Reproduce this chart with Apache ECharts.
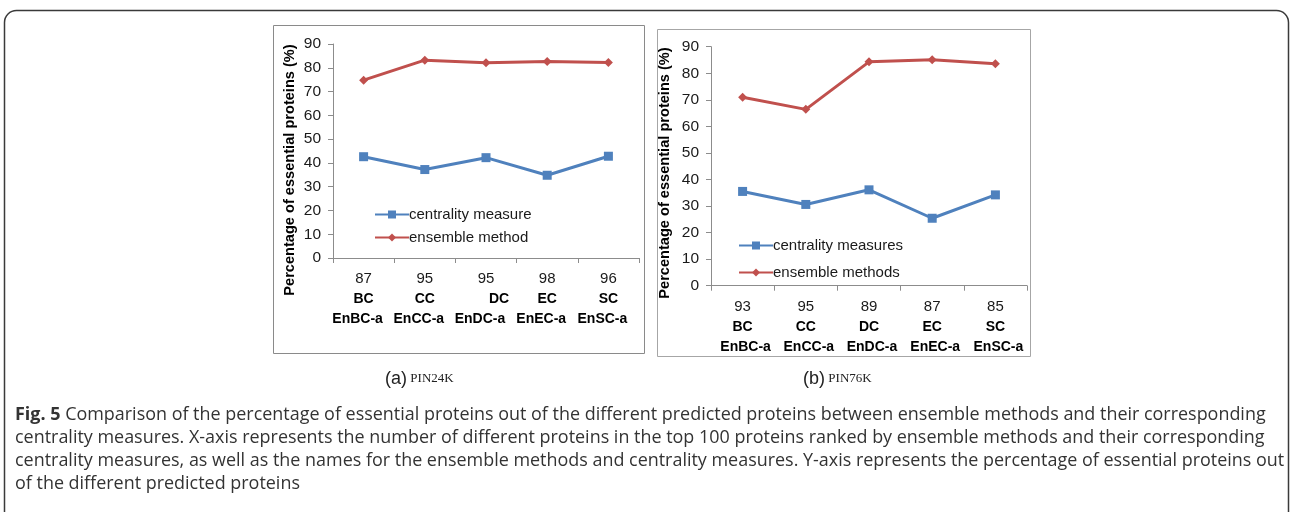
<!DOCTYPE html>
<html>
<head>
<meta charset="utf-8">
<script src="https://cdn.jsdelivr.net/npm/echarts@6/dist/echarts.min.js"></script>
<style>html,body{margin:0;padding:0;background:#fff}#c{width:1292px;height:512px}</style>
</head>
<body>
<div id="c"></div>
<script>
// ---- data ----
const centralityNames = ['BC', 'CC', 'DC', 'EC', 'SC'];
const ensembleNames = ['EnBC-a', 'EnCC-a', 'EnDC-a', 'EnEC-a', 'EnSC-a'];
const countsA = [87, 95, 95, 98, 96];
const countsB = [93, 95, 89, 87, 85];
const centralityA = [42.6, 37.2, 42.2, 34.8, 42.8];
const ensembleA = [74.8, 83.2, 82.1, 82.6, 82.2];
const centralityB = [35.5, 30.6, 36.1, 25.4, 34.2];
const ensembleB = [71.0, 66.4, 84.3, 85.1, 83.6];
const yTicks = [0, 10, 20, 30, 40, 50, 60, 70, 80, 90];
const yName = 'Percentage of essential proteins (%)';
const legendA = ['centrality measure', 'ensemble method'];
const legendB = ['centrality measures', 'ensemble methods'];
const subA = ['(a)', 'PIN24K'];
const subB = ['(b)', 'PIN76K'];
const captionBold = 'Fig. 5';
const captionLines = [
  ' Comparison of the percentage of essential proteins out of the different predicted proteins between ensemble methods and their corresponding',
  'centrality measures. X-axis represents the number of different proteins in the top 100 proteins ranked by ensemble methods and their corresponding',
  'centrality measures, as well as the names for the ensemble methods and centrality measures. Y-axis represents the percentage of essential proteins out',
  'of the different predicted proteins'
];

const BLUE = '#4F81BD', RED = '#C0504D', AX = '#8c8c8c';
const FONT = 'Liberation Sans';
const CAP = 'Open Sans';
const CAPSIZE = 17.95;

function makeXAxis(gi, counts, ensShift, cenShift) {
  return {
    type: 'category', gridIndex: gi, boundaryGap: true,
    data: counts.map((c, i) => String(i)),
    axisLine: {lineStyle: {color: AX, width: 1}},
    axisTick: {show: true, length: 5, lineStyle: {color: AX}, alignWithLabel: false},
    axisLabel: {
      margin: 11, interval: 0,
      formatter: function (v) {
        const i = +v;
        const cs = cenShift[i] ? 'c' + cenShift[i] : 'c0';
        return '{n|' + counts[i] + '}\n{' + cs + '|' + centralityNames[i] + '}\n{e|' + ensembleNames[i] + '}';
      },
      rich: {
        n: {fontFamily: FONT, fontSize: 15, color: '#1a1a1a', lineHeight: 20},
        c0: {fontFamily: FONT, fontSize: 14, fontWeight: 'bold', color: '#000', lineHeight: 20},
        c1: {fontFamily: FONT, fontSize: 14, fontWeight: 'bold', color: '#000', lineHeight: 20, padding: [0, 0, 0, 26]},
        e: {fontFamily: FONT, fontSize: 14, fontWeight: 'bold', color: '#000', lineHeight: 20, padding: ensShift}
      }
    }
  };
}
function makeYAxis(gi) {
  return {
    type: 'value', gridIndex: gi, min: yTicks[0], max: yTicks[yTicks.length - 1], interval: 10,
    splitLine: {show: false},
    axisLine: {show: true, lineStyle: {color: AX, width: 1}},
    axisTick: {show: true, length: 5, lineStyle: {color: AX}},
    axisLabel: {fontFamily: FONT, fontSize: 15.5, color: '#1a1a1a', margin: 12}
  };
}
function makeSeries(name, data, gi, color, symbol, size) {
  return {
    name: name, type: 'line', xAxisIndex: gi, yAxisIndex: gi, data: data,
    lineStyle: {color: color, width: 3}, itemStyle: {color: color},
    symbol: symbol, symbolSize: size, showSymbol: true, animation: false
  };
}
function legendStyle(names, left, top, gap) {
  return {
    data: names, orient: 'vertical', left: left, top: top, itemGap: gap,
    itemWidth: 34, itemHeight: 10, selectedMode: false,
    textStyle: {fontFamily: FONT, fontSize: 15, color: '#1a1a1a', padding: [0, 0, 0, -5]}
  };
}

const chart = echarts.init(document.getElementById('c'), null, {renderer: 'canvas'});
chart.setOption({
  animation: false,
  backgroundColor: '#fff',
  grid: [
    {left: 333, top: 44, width: 306, height: 214},
    {left: 711, top: 46.7, width: 316, height: 239}
  ],
  xAxis: [
    makeXAxis(0, countsA, [0, 12, 0, 0], [0, 0, 1, 0, 0]),
    makeXAxis(1, countsB, [0, 0, 0, 6], [])
  ],
  yAxis: [makeYAxis(0), makeYAxis(1)],
  legend: [
    legendStyle(legendA, 369, 202, 8),
    legendStyle(legendB, 733, 233, 12)
  ],
  series: [
    makeSeries(legendA[0], centralityA, 0, BLUE, 'rect', 9),
    makeSeries(legendA[1], ensembleA, 0, RED, 'diamond', 9),
    makeSeries(legendB[0], centralityB, 1, BLUE, 'rect', 9),
    makeSeries(legendB[1], ensembleB, 1, RED, 'diamond', 9)
  ],
  graphic: [
    {type: 'rect', z: -1, shape: {x: 4.5, y: 10.5, width: 1284, height: 540, r: 12},
     style: {fill: 'none', stroke: '#3a3a3a', lineWidth: 1.5}},
    {type: 'rect', z: -1, shape: {x: 273.5, y: 25.5, width: 371, height: 328},
     style: {fill: 'none', stroke: '#8a8a8a', lineWidth: 1}},
    {type: 'rect', z: -1, shape: {x: 657.5, y: 29.5, width: 373, height: 327},
     style: {fill: 'none', stroke: '#a6a6a6', lineWidth: 1}},
    {type: 'text', x: 290, y: 170, rotation: Math.PI / 2,
     style: {text: yName, fontFamily: FONT, fontSize: 14.6, fontWeight: 'bold', fill: '#000',
             align: 'center', verticalAlign: 'middle'}},
    {type: 'text', x: 665, y: 173, rotation: Math.PI / 2,
     style: {text: yName, fontFamily: FONT, fontSize: 14.6, fontWeight: 'bold', fill: '#000',
             align: 'center', verticalAlign: 'middle'}},
    {type: 'text', x: 385, y: 379,
     style: {text: '{a|' + subA[0] + '} {b|' + subA[1] + '}', verticalAlign: 'middle',
             rich: {a: {fontFamily: FONT, fontSize: 18, fill: '#222'},
                    b: {fontFamily: 'Liberation Serif', fontSize: 13, fill: '#222'}}}},
    {type: 'text', x: 803, y: 379,
     style: {text: '{a|' + subB[0] + '} {b|' + subB[1] + '}', verticalAlign: 'middle',
             rich: {a: {fontFamily: FONT, fontSize: 18, fill: '#222'},
                    b: {fontFamily: 'Liberation Serif', fontSize: 13, fill: '#222'}}}},
    {type: 'text', x: 15, y: 415,
     style: {text: '{b|' + captionBold + '}{t|' + captionLines[0] + '}', verticalAlign: 'middle',
             rich: {b: {fontFamily: CAP, fontSize: CAPSIZE, fontWeight: 'bold', fill: '#333'},
                    t: {fontFamily: CAP, fontSize: CAPSIZE, fill: '#333'}}}},
    {type: 'text', x: 15, y: 438,
     style: {text: captionLines[1], fontFamily: CAP, fontSize: CAPSIZE, fill: '#333', verticalAlign: 'middle'}},
    {type: 'text', x: 15, y: 461,
     style: {text: captionLines[2], fontFamily: CAP, fontSize: CAPSIZE, fill: '#333', verticalAlign: 'middle'}},
    {type: 'text', x: 15, y: 484,
     style: {text: captionLines[3], fontFamily: CAP, fontSize: CAPSIZE, fill: '#333', verticalAlign: 'middle'}}
  ]
});
</script>
</body>
</html>
